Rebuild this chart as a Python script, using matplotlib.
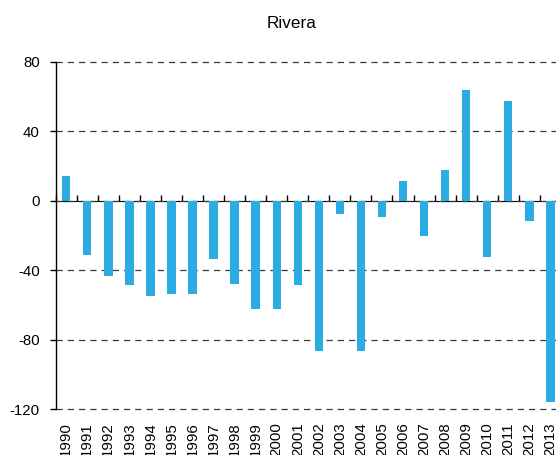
import matplotlib
matplotlib.use("Agg")
import matplotlib.pyplot as plt
import numpy as np

plt.rcParams['font.family'] = ['Liberation Sans', 'DejaVu Sans']
plt.rcParams['axes.unicode_minus'] = False

# data
years = [str(y) for y in range(1990, 2014)]
values = [14, -31, -43.5, -48.5, -55, -53.7, -53.7, -33.6, -48, -62.4, -62.4, -48.5,
          -86.7, -7.7, -86.7, -9.6, 11.1, -20.5, 17.7, 63.7, -32.6, 57.4, -11.9, -115.7]
y_ticks = [-120, -80, -40, 0, 40, 80]

BAR_COLOR = '#2BACE2'
GRID_COLOR = '#3a3a3a'

fig = plt.figure(figsize=(5.56, 4.55), dpi=100)
ax = fig.add_axes([0.1002, 0.1004, 0.9086, 0.764])

x = np.arange(len(years))
ax.bar(x, values, width=0.4, color=BAR_COLOR, zorder=2)

ax.set_xlim(-0.5, len(years) - 0.5)
ax.set_ylim(min(y_ticks), max(y_ticks))
ax.set_yticks(y_ticks)
ax.tick_params(axis='y', direction='out', length=4, width=1, pad=7.5,
               labelsize=10.8, colors='black')

# category labels along the bottom, no tick marks
ax.set_xticks(x)
ax.set_xticklabels(years, rotation=90, fontsize=10.8)
ax.tick_params(axis='x', length=0, pad=9.5)

for side in ['top', 'right', 'bottom']:
    ax.spines[side].set_visible(False)
ax.spines['left'].set_linewidth(1)

ax.yaxis.grid(True, linestyle=(0, (5, 4)), color=GRID_COLOR, linewidth=0.9, zorder=0)
ax.set_axisbelow(True)
for gl in ax.get_ygridlines():
    gl.set_clip_on(False)

# zero line with tick marks between the categories
ylo, yhi = ax.get_ylim()
zero_ax = ax.secondary_xaxis((0 - ylo) / (yhi - ylo))
zero_ax.set_xticks(np.arange(len(years) + 1) - 0.5)
zero_ax.set_xticklabels([])
zero_ax.tick_params(direction='out', length=4, width=1)
zero_ax.spines['bottom'].set_linewidth(1.2)

fig.text(292 / 556, 1 - 28 / 455, 'Rivera', ha='center', va='baseline', fontsize=12.3)

fig.savefig('out.png', dpi=100)
